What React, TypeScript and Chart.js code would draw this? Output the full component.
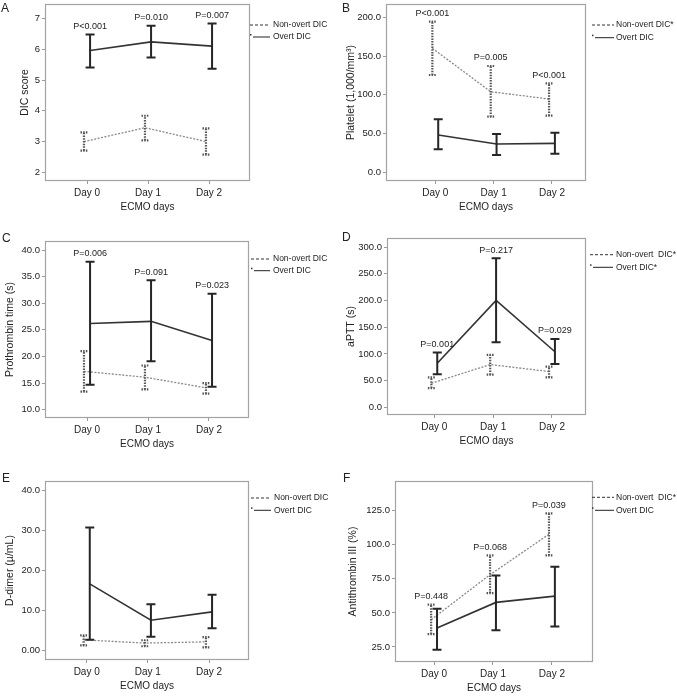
import React, { useEffect, useRef } from "react";
import { Chart, registerables } from "chart.js";

Chart.register(...registerables);

const FONT = '"Liberation Sans", Arial, Helvetica, sans-serif';

// ---------- shared categories ----------
const days = [0, 1, 2];
const dayLabels = ["Day 0", "Day 1", "Day 2"];
const xTitle = "ECMO days";

// ---------- A: DIC score ----------
const dicTicks = [2, 3, 4, 5, 6, 7];
const dicTickLabels = ["2", "3", "4", "5", "6", "7"];
const dicOvertMean = [5.96, 6.24, 6.1];
const dicOvertLow = [5.41, 5.73, 5.37];
const dicOvertHigh = [6.48, 6.76, 6.84];
const dicNonMean = [3.0, 3.45, 3.0];
const dicNonLow = [2.71, 3.04, 2.58];
const dicNonHigh = [3.3, 3.84, 3.43];
const dicP = ["P<0.001", "P=0.010", "P=0.007"];

// ---------- B: Platelet ----------
const pltTicks = [0, 50, 100, 150, 200];
const pltTickLabels = ["0.0", "50.0", "100.0", "150.0", "200.0"];
const pltOvertMean = [48.2, 36.6, 37.4];
const pltOvertLow = [29.7, 22.4, 24.1];
const pltOvertHigh = [68.4, 49.5, 51.2];
const pltNonMean = [160, 104, 94.6];
const pltNonLow = [125.6, 71.8, 73.1];
const pltNonHigh = [194.4, 137.2, 114.8];
const pltP = ["P<0.001", "P=0.005", "P<0.001"];

// ---------- C: Prothrombin time ----------
const ptTicks = [10, 15, 20, 25, 30, 35, 40];
const ptTickLabels = ["10.0", "15.0", "20.0", "25.0", "30.0", "35.0", "40.0"];
const ptOvertMean = [26.2, 26.6, 23.0];
const ptOvertLow = [14.7, 19.1, 14.3];
const ptOvertHigh = [37.8, 34.3, 31.8];
const ptNonMean = [17.2, 16.1, 14.1];
const ptNonLow = [13.4, 13.8, 13.0];
const ptNonHigh = [21.0, 18.3, 15.0];
const ptP = ["P=0.006", "P=0.091", "P=0.023"];

// ---------- D: aPTT ----------
const apttTicks = [0, 50, 100, 150, 200, 250, 300];
const apttTickLabels = ["0.0", "50.0", "100.0", "150.0", "200.0", "250.0", "300.0"];
const apttOvertMean = [82.5, 200, 104];
const apttOvertLow = [62, 122, 81];
const apttOvertHigh = [102.5, 279, 128];
const apttNonMean = [45, 80, 67];
const apttNonLow = [36, 61, 56];
const apttNonHigh = [56, 98, 76];
const apttP = ["P=0.001", "P=0.217", "P=0.029"];

// ---------- E: D-dimer ----------
const ddTicks = [0, 10, 20, 30, 40];
const ddTickLabels = ["0.00", "10.0", "20.0", "30.0", "40.0"];
const ddOvertMean = [16.7, 7.6, 9.7];
const ddOvertLow = [2.7, 3.5, 5.6];
const ddOvertHigh = [30.8, 11.6, 14.0];
const ddNonMean = [2.7, 1.9, 2.2];
const ddNonLow = [1.3, 1.1, 0.8];
const ddNonHigh = [3.8, 2.6, 3.4];

// ---------- F: Antithrombin III ----------
const atTicks = [25, 50, 75, 100, 125];
const atTickLabels = ["25.0", "50.0", "75.0", "100.0", "125.0"];
const atOvertMean = [38.9, 57.7, 62.3];
const atOvertLow = [23.0, 37.2, 40.1];
const atOvertHigh = [53.0, 77.4, 83.8];
const atNonMean = [45, 78, 107.7];
const atNonLow = [34.5, 64.5, 92.1];
const atNonHigh = [56, 92.1, 123];
const atP = ["P=0.448", "P=0.068", "P=0.039"];

// ---------- layout / styling ----------
const NON_OFF = -0.05;
const OVERT_OFF = 0.05;
const XH = 34;

type Series = { mean: number[]; low: number[]; high: number[] };
type Panel = {
  letter: string;
  letterX: number;
  letterY: number;
  ox: number;
  oy: number;
  w: number;
  h: number;
  fl: number;
  fr: number;
  ft: number;
  fb: number;
  xMin: number;
  xMax: number;
  yMin: number;
  yMax: number;
  yTitle: string;
  yTitleX: number;
  yTicks: number[];
  yTickLabels: string[];
  overt: Series;
  non: Series;
  p: string[] | null;
  legNon: string;
  legOvert: string;
  lx1: number;
  lx2: number;
  ltx: number;
  ly1: number;
  ly2: number;
};

const panels: Panel[] = [
  {
    letter: "A", letterX: 1, letterY: 12,
    ox: 0, oy: 0, w: 337, h: 228,
    fl: 45, fr: 250, ft: 4, fb: 181,
    xMin: -0.689, xMax: 2.672, yMin: 1.72, yMax: 7.47,
    yTitle: "DIC score", yTitleX: 25,
    yTicks: dicTicks, yTickLabels: dicTickLabels,
    overt: { mean: dicOvertMean, low: dicOvertLow, high: dicOvertHigh },
    non: { mean: dicNonMean, low: dicNonLow, high: dicNonHigh },
    p: dicP,
    legNon: "Non-overt DIC", legOvert: "Overt DIC",
    lx1: 250, lx2: 270, ltx: 273, ly1: 25, ly2: 37,
  },
  {
    letter: "B", letterX: 5, letterY: 12,
    ox: 337, oy: 0, w: 340, h: 228,
    fl: 49, fr: 249, ft: 4, fb: 181,
    xMin: -0.845, xMax: 2.583, yMin: -11.2, yMax: 217.2,
    yTitle: "Platelet (1,000/mm³)", yTitleX: 14,
    yTicks: pltTicks, yTickLabels: pltTickLabels,
    overt: { mean: pltOvertMean, low: pltOvertLow, high: pltOvertHigh },
    non: { mean: pltNonMean, low: pltNonLow, high: pltNonHigh },
    p: pltP,
    legNon: "Non-overt DIC*", legOvert: "Overt DIC",
    lx1: 255, lx2: 277, ltx: 279, ly1: 25, ly2: 37.7,
  },
  {
    letter: "C", letterX: 2, letterY: 13.5,
    ox: 0, oy: 228, w: 337, h: 230,
    fl: 45, fr: 249, ft: 13, fb: 190,
    xMin: -0.689, xMax: 2.656, yMin: 8.43, yMax: 41.7,
    yTitle: "Prothrombin time (s)", yTitleX: 10,
    yTicks: ptTicks, yTickLabels: ptTickLabels,
    overt: { mean: ptOvertMean, low: ptOvertLow, high: ptOvertHigh },
    non: { mean: ptNonMean, low: ptNonLow, high: ptNonHigh },
    p: ptP,
    legNon: "Non-overt DIC", legOvert: "Overt DIC",
    lx1: 251, lx2: 270, ltx: 273, ly1: 31, ly2: 42.7,
  },
  {
    letter: "D", letterX: 5, letterY: 13.3,
    ox: 337, oy: 228, w: 340, h: 230,
    fl: 50, fr: 249, ft: 10, fb: 187,
    xMin: -0.804, xMax: 2.578, yMin: -14.4, yMax: 316.9,
    yTitle: "aPTT (s)", yTitleX: 14,
    yTicks: apttTicks, yTickLabels: apttTickLabels,
    overt: { mean: apttOvertMean, low: apttOvertLow, high: apttOvertHigh },
    non: { mean: apttNonMean, low: apttNonLow, high: apttNonHigh },
    p: apttP,
    legNon: "Non-overt  DIC*", legOvert: "Overt DIC*",
    lx1: 253, lx2: 276, ltx: 279, ly1: 26.7, ly2: 39.3,
  },
  {
    letter: "E", letterX: 2, letterY: 24,
    ox: 0, oy: 458, w: 337, h: 238,
    fl: 45, fr: 249, ft: 23, fb: 202,
    xMin: -0.682, xMax: 2.654, yMin: -2.33, yMax: 42.4,
    yTitle: "D-dimer (µ/mL)", yTitleX: 10,
    yTicks: ddTicks, yTickLabels: ddTickLabels,
    overt: { mean: ddOvertMean, low: ddOvertLow, high: ddOvertHigh },
    non: { mean: ddNonMean, low: ddNonLow, high: ddNonHigh },
    p: null,
    legNon: "Non-overt DIC", legOvert: "Overt DIC",
    lx1: 251, lx2: 271, ltx: 274, ly1: 40, ly2: 52.3,
  },
  {
    letter: "F", letterX: 6, letterY: 24,
    ox: 337, oy: 458, w: 340, h: 238,
    fl: 58, fr: 256, ft: 23, fb: 204,
    xMin: -0.663, xMax: 2.697, yMin: 14.0, yMax: 146.7,
    yTitle: "Antithrombin III (%)", yTitleX: 16,
    yTicks: atTicks, yTickLabels: atTickLabels,
    overt: { mean: atOvertMean, low: atOvertLow, high: atOvertHigh },
    non: { mean: atNonMean, low: atNonLow, high: atNonHigh },
    p: atP,
    legNon: "Non-overt  DIC*", legOvert: "Overt DIC",
    lx1: 255, lx2: 277, ltx: 279, ly1: 39.3, ly2: 52.3,
  },
];

const decoPlugin = {
  id: "panelDeco",
  beforeDatasetsDraw(chart: any) {
    const ca = chart.chartArea;
    const ctx = chart.ctx;
    ctx.save();
    ctx.strokeStyle = "#a3a3a3";
    ctx.lineWidth = 1.2;
    ctx.strokeRect(ca.left + 0.5, ca.top + 0.5, ca.right - ca.left - 1, ca.bottom - ca.top - 1);
    ctx.restore();
  },
  afterDatasetsDraw(chart: any, _a: any, opts: any) {
    const p: Panel = opts.panel;
    const ctx = chart.ctx;
    const xs = chart.scales.x;
    const ys = chart.scales.y;

    const bar = (x: number, lo: number, hi: number, color: string, width: number, dash: number[], cap: number) => {
      ctx.save();
      ctx.strokeStyle = color;
      ctx.lineWidth = width;
      ctx.setLineDash(dash);
      ctx.beginPath();
      ctx.moveTo(x, lo);
      ctx.lineTo(x, hi);
      ctx.moveTo(x - cap, lo);
      ctx.lineTo(x + cap, lo);
      ctx.moveTo(x - cap, hi);
      ctx.lineTo(x + cap, hi);
      ctx.stroke();
      ctx.restore();
    };

    days.forEach((d, i) => {
      const xn = xs.getPixelForValue(d + NON_OFF);
      bar(xn, ys.getPixelForValue(p.non.low[i]), ys.getPixelForValue(p.non.high[i]), "#555", 2.2, [1.5, 1.2], 3.5);
      const xo = xs.getPixelForValue(d + OVERT_OFF);
      bar(xo, ys.getPixelForValue(p.overt.low[i]), ys.getPixelForValue(p.overt.high[i]), "#262626", 2, [], 4.5);
    });

    // P-values
    if (p.p) {
      ctx.save();
      ctx.font = `9px ${FONT}`;
      ctx.fillStyle = "#222";
      ctx.textAlign = "center";
      ctx.textBaseline = "middle";
      days.forEach((d, i) => {
        const nonTop = p.non.high[i];
        const ovTop = p.overt.high[i];
        const useNon = nonTop > ovTop;
        const x = xs.getPixelForValue(d + (useNon ? NON_OFF : OVERT_OFF));
        const y = ys.getPixelForValue(Math.max(nonTop, ovTop)) - 8;
        ctx.fillText(p.p![i], x, y);
      });
      ctx.restore();
    }

    // legend
    ctx.save();
    ctx.strokeStyle = "#333";
    ctx.lineWidth = 1;
    ctx.setLineDash([3, 2]);
    ctx.beginPath();
    ctx.moveTo(p.lx1, p.ly1);
    ctx.lineTo(p.lx2, p.ly1);
    ctx.stroke();
    ctx.setLineDash([]);
    ctx.strokeStyle = "#222";
    ctx.beginPath();
    ctx.moveTo(p.lx1 + 3, p.ly2);
    ctx.lineTo(p.lx2, p.ly2);
    ctx.stroke();
    ctx.fillStyle = "#333";
    ctx.fillRect(p.lx1, p.ly2 - 3, 1.5, 1.5);
    ctx.font = `8.5px ${FONT}`;
    ctx.fillStyle = "#222";
    ctx.textAlign = "left";
    ctx.textBaseline = "middle";
    ctx.fillText(p.legNon, p.ltx, p.ly1);
    ctx.fillText(p.legOvert, p.ltx, p.ly2);
    // panel letter
    ctx.font = `12px ${FONT}`;
    ctx.textBaseline = "alphabetic";
    ctx.fillText(p.letter, p.letterX, p.letterY);
    ctx.restore();
  },
};

function makeConfig(p: Panel): any {
  const yTitleFont = 10.5;
  const xTitleFont = 10;
  return {
    type: "line",
    data: {
      datasets: [
        {
          label: p.legNon,
          data: days.map((d, i) => ({ x: d + NON_OFF, y: p.non.mean[i] })),
          borderColor: "#8a8a8a",
          borderWidth: 1.3,
          borderDash: [2, 1.5],
          pointRadius: 0,
          fill: false,
          tension: 0,
        },
        {
          label: p.legOvert,
          data: days.map((d, i) => ({ x: d + OVERT_OFF, y: p.overt.mean[i] })),
          borderColor: "#333",
          borderWidth: 1.6,
          pointRadius: 0,
          fill: false,
          tension: 0,
        },
      ],
    },
    options: {
      responsive: false,
      animation: false,
      devicePixelRatio: 1,
      events: [],
      layout: {
        padding: { left: 0, top: p.ft, right: p.w - p.fr, bottom: p.h - p.fb - XH },
      },
      plugins: {
        legend: { display: false },
        tooltip: { enabled: false },
        panelDeco: { panel: p },
      },
      scales: {
        x: {
          type: "linear",
          min: p.xMin,
          max: p.xMax,
          afterBuildTicks: (s: any) => {
            s.ticks = days.map((v) => ({ value: v }));
          },
          afterFit: (s: any) => {
            s.height = XH;
            s.paddingLeft = 0;
            s.paddingRight = 0;
          },
          ticks: {
            callback: (_v: any, idx: number) => dayLabels[idx],
            font: { family: FONT, size: 10 },
            color: "#222",
            padding: 3,
            maxRotation: 0,
            autoSkip: false,
          },
          grid: { display: true, drawOnChartArea: false, drawTicks: true, tickLength: 3, color: "#999" },
          border: { display: false },
          title: {
            display: true,
            text: xTitle,
            font: { family: FONT, size: xTitleFont },
            color: "#222",
            padding: { top: 0, bottom: XH - (xTitleFont * 1.2) / 2 - 26.7 },
          },
        },
        y: {
          type: "linear",
          min: p.yMin,
          max: p.yMax,
          afterBuildTicks: (s: any) => {
            s.ticks = p.yTicks.map((v) => ({ value: v }));
          },
          afterFit: (s: any) => {
            s.width = p.fl;
            s.paddingTop = 0;
            s.paddingBottom = 0;
          },
          ticks: {
            callback: (_v: any, idx: number) => p.yTickLabels[idx],
            font: { family: FONT, size: 9.5 },
            color: "#222",
            padding: 2,
            autoSkip: false,
          },
          grid: { display: true, drawOnChartArea: false, drawTicks: true, tickLength: 3, color: "#999" },
          border: { display: false },
          title: {
            display: true,
            text: p.yTitle,
            font: { family: FONT, size: yTitleFont },
            color: "#222",
            padding: { top: p.yTitleX - (yTitleFont * 1.2) / 2, bottom: 0 },
          },
        },
      },
    },
    plugins: [decoPlugin],
  };
}

function PanelChart({ p }: { p: Panel }) {
  const ref = useRef<HTMLCanvasElement>(null);
  useEffect(() => {
    if (!ref.current) return;
    const chart = new Chart(ref.current, makeConfig(p));
    return () => chart.destroy();
  }, [p]);
  return (
    <div style={{ position: "absolute", left: p.ox, top: p.oy, width: p.w, height: p.h }}>
      <canvas ref={ref} width={p.w} height={p.h} style={{ display: "block", width: p.w, height: p.h }} />
    </div>
  );
}

export default function App() {
  return (
    <div
      style={{
        position: "fixed",
        left: 0,
        top: 0,
        width: 677,
        height: 696,
        background: "#fff",
        overflow: "hidden",
      }}
    >
      {panels.map((p) => (
        <PanelChart key={p.letter} p={p} />
      ))}
    </div>
  );
}
